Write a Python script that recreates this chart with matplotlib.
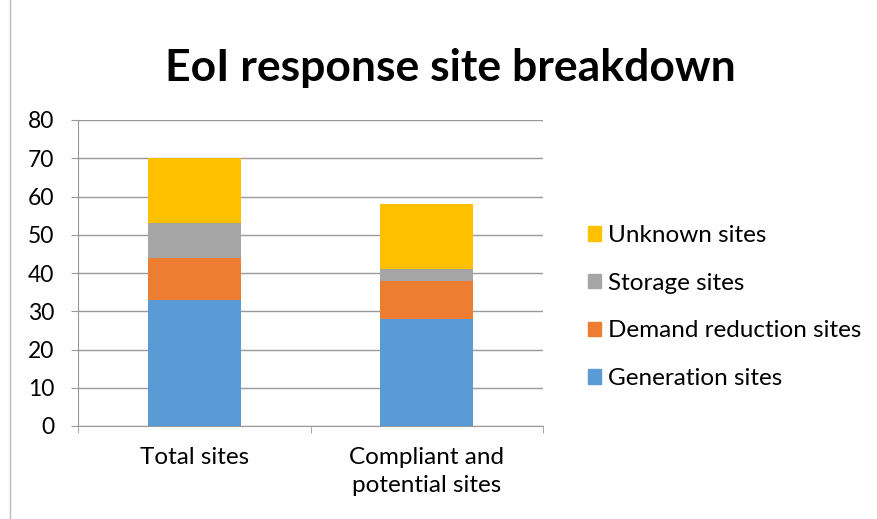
import numpy as np
import matplotlib.pyplot as plt
from matplotlib.patches import Patch, Rectangle

plt.rcParams['font.family'] = ['Lato', 'DejaVu Sans']

categories = ['Total sites', 'Compliant and\npotential sites']
series = ['Generation sites', 'Demand reduction sites', 'Storage sites', 'Unknown sites']
values = {
    'Generation sites': [33, 28],
    'Demand reduction sites': [11, 10],
    'Storage sites': [9, 3],
    'Unknown sites': [17, 17],
}
colors = ['#5B9BD5', '#ED7D31', '#A5A5A5', '#FFC000']

fig = plt.figure(figsize=(8.77, 5.19), dpi=100)
ax = fig.add_axes([78 / 877, 1 - 426 / 519, (543 - 78) / 877, (426 - 120) / 519])

x = np.arange(len(categories))
bottom = np.zeros(len(categories))
for name, c in zip(series, colors):
    v = np.array(values[name])
    ax.bar(x, v, width=0.4, bottom=bottom, color=c, label=name, zorder=3)
    bottom += v

ax.set_xlim(-0.5, 1.5)
ax.set_ylim(0, 80)
ax.set_yticks(range(0, 81, 10))
ax.set_xticks(x)
ax.set_xticklabels(categories, fontsize=17.5, linespacing=1.4)
ax.tick_params(axis='x', length=0, pad=15)
ax.tick_params(axis='y', length=5, color='#999999', labelsize=16.5, pad=12)
ax.set_xticks([-0.5, 0.5, 1.5], minor=True)
ax.tick_params(axis='x', which='minor', length=5, color='#999999')
ax.grid(axis='y', color='#999999', linewidth=1, zorder=0)
for s in ['top', 'right']:
    ax.spines[s].set_visible(False)
for s in ['left', 'bottom']:
    ax.spines[s].set_color('#999999')

fig.text(450 / 877, 1 - 81 / 519, 'EoI response site breakdown', ha='center', va='baseline',
         fontsize=32, fontweight='bold')

handles = [Patch(color=c, label=n) for n, c in zip(series, colors)][::-1]
fig.legend(handles=handles, loc='center left', bbox_to_anchor=(588 / 877, 1 - 307 / 519),
           frameon=False, fontsize=17.5, handlelength=0.54, handleheight=0.54,
           handletextpad=0.3, labelspacing=1.1, borderpad=0, borderaxespad=0)

fig.patches.append(Rectangle((10 / 877, -0.01), 1, 1.02, transform=fig.transFigure,
                             fill=False, edgecolor='#BBBBBB', linewidth=1))

fig.savefig('out.png', dpi=100)
